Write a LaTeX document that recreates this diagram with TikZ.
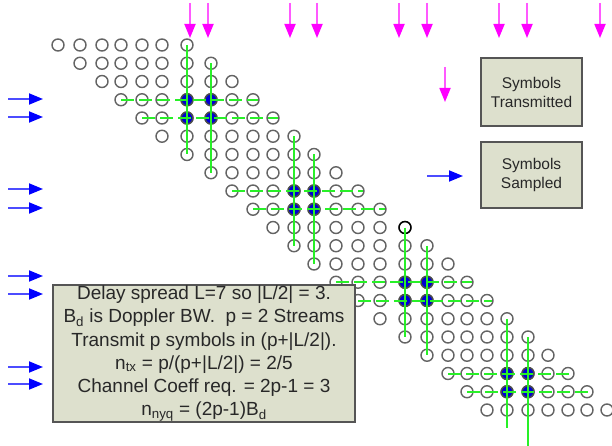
\documentclass[tikz,border=0pt]{standalone}
\usepackage{fontspec}
\setmainfont{Liberation Sans}
\usetikzlibrary{arrows.meta}
\definecolor{boxfill}{RGB}{221,224,205}
\definecolor{boxline}{RGB}{85,85,85}
\definecolor{txt}{RGB}{40,40,40}
\definecolor{ringc}{RGB}{100,100,100}
\definecolor{grn}{RGB}{40,240,40}
\definecolor{blu}{RGB}{0,0,210}
\definecolor{mag}{RGB}{255,0,255}
\definecolor{arrblue}{RGB}{0,0,255}
\begin{document}
\begin{tikzpicture}[x=1pt,y=-1pt,
 ring/.style={circle,draw=ringc,line width=1.4pt,minimum size=12pt,inner sep=0pt},
 bluering/.style={ring,fill=blu,draw=black!70},
 darkring/.style={ring,draw=black},
 gline/.style={grn,line width=2pt},
 gdash/.style={gline,dash pattern=on 13pt off 5pt},
 magarrow/.style={draw=mag!65,line width=1.8pt,-{Triangle[length=14pt,width=11pt,color=mag]}},
 bluarrow/.style={draw=arrblue!70,line width=1.8pt,-{Triangle[length=14pt,width=11pt,color=arrblue]}},
 infobox/.style={draw=boxline,line width=1.3pt,fill=boxfill,text=txt,align=center,inner sep=0pt},
]
\useasboundingbox (0,0) rectangle (612,446);
\def\colx{{58,80,102,121,142,162,187,211,232,253,273,294,314,336,358,380,405,427,448,467,487,507,528,548,568,587,607}}
% grid coordinates
\foreach \i in {0,...,22}{
  \foreach \j in {0,...,26}{
    \pgfmathsetmacro\cx{\colx[\j]}
    \pgfmathsetmacro\cy{45+18.25*\i}
    \coordinate (g-\i-\j) at (\cx,\cy);
  }
}
% rings
\foreach \i in {0,...,20}{
  \foreach \k in {0,...,6}{
    \pgfmathtruncatemacro\j{\i+\k}
    \node[ring] (c-\i-\j) at (g-\i-\j) {};
  }
}
% blue sampled symbols
\foreach \k in {0,...,3}{
  \foreach \di in {3,4}{
    \foreach \dj in {6,7}{
      \pgfmathtruncatemacro\ii{5*\k+\di}
      \pgfmathtruncatemacro\jj{5*\k+\dj}
      \node[bluering] (b-\ii-\jj) at (g-\ii-\jj) {};
    }
  }
}
\node[darkring] (cdark) at (g-10-16) {};
% green lines
\foreach \k in {0,...,3}{
  \pgfmathtruncatemacro\ra{5*\k}
  \pgfmathtruncatemacro\rb{5*\k+6}
  \pgfmathtruncatemacro\rc{5*\k+1}
  \pgfmathtruncatemacro\rd{5*\k+7}
  \pgfmathtruncatemacro\ca{5*\k+6}
  \pgfmathtruncatemacro\cb{5*\k+7}
  \draw[gline] (g-\ra-\ca) -- (g-\rb-\ca);
  \draw[gline] (g-\rc-\cb) -- (g-\rd-\cb);
  \pgfmathtruncatemacro\ha{5*\k+3}
  \pgfmathtruncatemacro\hae{5*\k+9}
  \pgfmathtruncatemacro\hb{5*\k+4}
  \pgfmathtruncatemacro\hbe{5*\k+10}
  \draw[gdash] (g-\ha-\ha) -- ([xshift=5pt]g-\ha-\hae);
  \draw[gdash] (g-\hb-\hb) -- ([xshift=5pt]g-\hb-\hbe);
}
% info box
\node[infobox,minimum width=302pt,minimum height=137pt,
      font=\fontsize{19}{23.2}\selectfont] (info) at (204,353.5)
 {Delay spread L=7 so |L/2| = 3.\\
  B\textsubscript{d} is Doppler BW.~~p = 2 Streams\\
  Transmit p symbols in (p+|L/2|).\\
  n\textsubscript{tx} = p/(p+|L/2|) = 2/5\\
  Channel Coeff req. = 2p-1 = 3\\
  n\textsubscript{nyq} = (2p-1)B\textsubscript{d}};
% legend
\node[infobox,minimum width=101pt,minimum height=68pt,
      font=\fontsize{15.5}{19}\selectfont] (tx) at (531.5,92) {Symbols\\Transmitted};
\node[infobox,minimum width=101pt,minimum height=66pt,
      font=\fontsize{15.5}{19}\selectfont] (samp) at (531.5,175) {Symbols\\Sampled};
% transmit arrows (top)
\foreach \x [count=\n] in {190,208,290,317,399,427,499,527,600}{
  \coordinate (ms\n) at (\x,3);
  \coordinate (me\n) at (\x,38);
  \draw[magarrow] (ms\n) -- (me\n);
}
% sample arrows (left)
\foreach \y [count=\n] in {99,117,189,208,276,294,367,384}{
  \coordinate (bs\n) at (8,\y);
  \coordinate (be\n) at (43,\y);
  \draw[bluarrow] (bs\n) -- (be\n);
}
% legend arrows
\coordinate (lms) at (445,67);
\coordinate (lme) at (445,102);
\draw[magarrow] (lms) -- (lme);
\coordinate (lbs) at (427,176);
\coordinate (lbe) at (463,176);
\draw[bluarrow] (lbs) -- (lbe);
\end{tikzpicture}
\end{document}
